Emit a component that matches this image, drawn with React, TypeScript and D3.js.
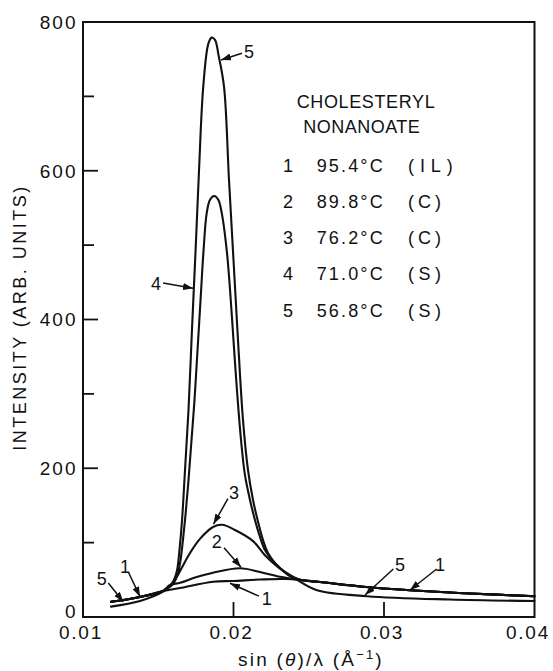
import React from "react";
import * as d3 from "d3";

// ---- data (x = sin(theta)/lambda in 1/Å, y = intensity, arb. units) ----
const headShared: [number, number][] = [
  [0.01186, 20.5], [0.01379, 27], [0.01532, 35],
];
const tailShared: [number, number][] = [
  [0.02575, 47], [0.0286, 40.7], [0.03173, 36], [0.03571, 31.6], [0.04, 28],
];
const curve1Mid: [number, number][] = [
  [0.01645, 39], [0.01864, 47.5], [0.01997, 48.4], [0.02176, 50.4], [0.02355, 51],
];
const curve2Mid: [number, number][] = [
  [0.01578, 43], [0.01645, 46], [0.01745, 53], [0.01864, 59.5], [0.02043, 65.5],
  [0.02176, 60.5], [0.02309, 54], [0.02442, 50],
];
const curve3Mid: [number, number][] = [
  [0.01598, 46], [0.01645, 62], [0.01711, 86], [0.01777, 105], [0.01864, 121],
  [0.01924, 124], [0.0201, 117], [0.0213, 102], [0.02209, 83], [0.02296, 67],
  [0.02375, 56.5], [0.02442, 50],
];
const curve4Mid: [number, number][] = [
  [0.01565, 39], [0.01598, 44.4], [0.01628, 56.5], [0.01648, 76.6], [0.01664, 103.5],
  [0.01681, 137], [0.01701, 184], [0.01721, 238], [0.01741, 292], [0.01761, 359],
  [0.01781, 426], [0.01801, 493], [0.01822, 543], [0.01844, 561], [0.01872, 566],
  [0.01899, 561], [0.01922, 543], [0.01955, 493], [0.01977, 440], [0.02, 372],
  [0.02023, 305], [0.0205, 238], [0.02076, 191], [0.0211, 157], [0.02143, 130],
  [0.02176, 107.6], [0.02209, 90], [0.02256, 76.6], [0.02309, 66], [0.02375, 55],
  [0.02442, 50],
];
const curve5: [number, number][] = [
  [0.01186, 14], [0.01379, 21.5], [0.01532, 34], [0.01578, 41.7], [0.01605, 50],
  [0.01625, 63], [0.01641, 90], [0.01658, 130], [0.01678, 198], [0.01701, 278],
  [0.01724, 386], [0.01748, 493], [0.01771, 601], [0.01799, 713], [0.01833, 771],
  [0.01855, 779], [0.01877, 776], [0.01902, 754], [0.01937, 713], [0.0197, 588],
  [0.02, 480], [0.0203, 372], [0.02063, 265], [0.02096, 198], [0.0213, 157],
  [0.02163, 128], [0.02196, 103.5], [0.02229, 86], [0.02282, 71], [0.02355, 58],
  [0.02422, 50], [0.02555, 36], [0.02887, 28], [0.03439, 23.5], [0.04, 21.5],
];

const curve1 = [...headShared, ...curve1Mid, ...tailShared];
const curve2 = [...headShared, ...curve2Mid, ...tailShared];
const curve3 = [...headShared, ...curve3Mid, ...tailShared];
const curve4 = [...headShared, ...curve4Mid, ...tailShared];
const curves = [curve1, curve2, curve3, curve4, curve5];

const xTickLabels = [0.01, 0.02, 0.03, 0.04];
const xInnerTicks = [0.02, 0.03];
const yTickLabels = [0, 200, 400, 600, 800];
const yMajorTicks = [200, 400, 600];
const yMinorTicks = [100, 300, 500, 700];

const legendTitle = ["CHOLESTERYL", "NONANOATE"];
const legendNums = ["1", "2", "3", "4", "5"];
const legendTemps = ["95.4°C", "89.8°C", "76.2°C", "71.0°C", "56.8°C"];
const legendPhases = ["(IL)", "(C)", "(C)", "(S)", "(S)"];

// curve labels: text position and arrow (from -> tip), in data coordinates
const curveLabels = [
  { t: "5", tx: 0.02103, ty: 761, x1: 0.02056, y1: 758, x2: 0.01917, y2: 749 },
  { t: "4", tx: 0.01485, ty: 449, x1: 0.01532, y1: 449, x2: 0.01731, y2: 442 },
  { t: "3", tx: 0.02003, ty: 167, x1: 0.01963, y1: 159, x2: 0.01867, y2: 125 },
  { t: "2", tx: 0.01888, ty: 101, x1: 0.01937, y1: 93, x2: 0.0205, y2: 67 },
  { t: "1", tx: 0.02221, ty: 25.5, x1: 0.02169, y1: 28, x2: 0.01977, y2: 45.3 },
  { t: "1", tx: 0.01279, ty: 67.6, x1: 0.01301, y1: 60.5, x2: 0.01379, y2: 27.3 },
  { t: "5", tx: 0.01124, ty: 52, x1: 0.01168, y1: 45.7, x2: 0.01268, y2: 20.6 },
  { t: "5", tx: 0.03106, ty: 70, x1: 0.03062, y1: 64.5, x2: 0.02874, y2: 29.6 },
  { t: "1", tx: 0.03372, ty: 70, x1: 0.0335, y1: 64.5, x2: 0.03173, y2: 36.3 },
];

const W = 553;
const H = 671;
const FONT = "'Liberation Sans', Arial, Helvetica, sans-serif";
const INK = "#111";

export default function App() {
  const x = d3.scaleLinear().domain([0.01, 0.04]).range([83, 534.5]);
  const y = d3.scaleLinear().domain([0, 800]).range([617, 22]);
  const line = d3
    .line<[number, number]>()
    .x((d) => x(d[0]))
    .y((d) => y(d[1]))
    .curve(d3.curveCatmullRom.alpha(0.5));

  const [x0, x1] = x.range();
  const [y0, y1] = y.range();

  return (
    <svg
      width={W}
      height={H}
      style={{ position: "absolute", left: 0, top: 0, background: "#fff" }}
      fontFamily={FONT}
    >
      <defs>
        <marker
          id="ah"
          markerUnits="userSpaceOnUse"
          markerWidth={10}
          markerHeight={8}
          refX={10}
          refY={4}
          orient="auto"
        >
          <path d="M0,0.5 L10,4 L0,7.5 z" fill={INK} />
        </marker>
      </defs>
      <rect x={0} y={0} width={W} height={H} fill="#fff" />

      {/* frame */}
      <rect
        x={x0}
        y={y1}
        width={x1 - x0}
        height={y0 - y1}
        fill="none"
        stroke={INK}
        strokeWidth={2}
      />

      {/* ticks */}
      {xInnerTicks.map((v) => (
        <line key={"xt" + v} x1={x(v)} x2={x(v)} y1={y0} y2={y0 - 15} stroke={INK} strokeWidth={1.8} />
      ))}
      {yMajorTicks.map((v) => (
        <line key={"ym" + v} x1={x0} x2={x0 + 15} y1={y(v)} y2={y(v)} stroke={INK} strokeWidth={1.8} />
      ))}
      {yMinorTicks.map((v) => (
        <line key={"yn" + v} x1={x0} x2={x0 + 11} y1={y(v)} y2={y(v)} stroke={INK} strokeWidth={1.8} />
      ))}

      {/* tick labels */}
      {yTickLabels.map((v) => (
        <text
          key={"yl" + v}
          x={77.5}
          y={y(v) + 6.8 - (v === 0 ? 6 : 0)}
          textAnchor="end"
          fontSize={19}
          letterSpacing={2}
          fill={INK}
        >
          {v}
        </text>
      ))}
      {xTickLabels.map((v) => (
        <text
          key={"xl" + v}
          x={Math.min(x(v) - 2, 528)}
          y={639}
          textAnchor="middle"
          fontSize={19}
          letterSpacing={1.8}
          fill={INK}
        >
          {v.toFixed(2)}
        </text>
      ))}

      {/* axis titles */}
      <text
        transform={`translate(25.5, ${(183 + 452) / 2}) rotate(-90)`}
        textAnchor="middle"
        fontSize={18}
        letterSpacing={2.5}
        fill={INK}
      >
        INTENSITY  (ARB. UNITS)
      </text>
      <text x={311} y={666} textAnchor="middle" fontSize={19} letterSpacing={2.2} fill={INK}>
        <tspan>sin (</tspan>
        <tspan fontStyle="italic">θ</tspan>
        <tspan>)/λ   (Å</tspan>
        <tspan dy={-7} fontSize={13}>−1</tspan>
        <tspan dy={7}>)</tspan>
      </text>

      {/* curves */}
      {curves.map((c, i) => (
        <path
          key={"c" + i}
          d={line(c) || ""}
          fill="none"
          stroke={INK}
          strokeWidth={2.1}
          strokeLinejoin="round"
          strokeLinecap="round"
        />
      ))}

      {/* curve labels */}
      {curveLabels.map((l, i) => (
        <g key={"l" + i}>
          <line
            x1={x(l.x1)}
            y1={y(l.y1)}
            x2={x(l.x2)}
            y2={y(l.y2)}
            stroke={INK}
            strokeWidth={1.5}
            markerEnd="url(#ah)"
          />
          <text x={x(l.tx)} y={y(l.ty) + 6.5} textAnchor="middle" fontSize={18} fill={INK}>
            {l.t}
          </text>
        </g>
      ))}

      {/* legend */}
      <text x={296.7} y={108.3} fontSize={18} textLength={138} lengthAdjust="spacing" fill={INK}>
        {legendTitle[0]}
      </text>
      <text x={303.3} y={133.3} fontSize={18} textLength={116.5} lengthAdjust="spacing" fill={INK}>
        {legendTitle[1]}
      </text>
      {legendNums.map((n, i) => {
        const by = 171.7 + i * 36.25;
        return (
          <g key={"lg" + i}>
            <text x={283} y={by} fontSize={18} fill={INK}>
              {n}
            </text>
            <text x={316.7} y={by} fontSize={18} textLength={66} lengthAdjust="spacing" fill={INK}>
              {legendTemps[i]}
            </text>
            <text
              x={408}
              y={by}
              fontSize={18}
              textLength={legendPhases[i].length === 4 ? 44.7 : 33}
              lengthAdjust="spacing"
              fill={INK}
            >
              {legendPhases[i]}
            </text>
          </g>
        );
      })}
    </svg>
  );
}
